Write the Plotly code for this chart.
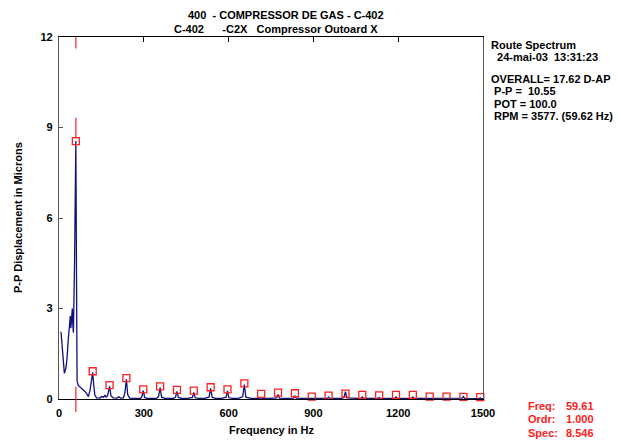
import plotly.graph_objects as go

# ---------------- data ----------------
freq_hz = [7, 12, 19, 24, 28, 33, 37, 40, 42, 45, 47, 49, 51, 55, 59.6, 62, 64, 68, 75, 86, 95, 104,
           110, 115, 119.2, 123, 127, 133, 145, 151, 158, 163, 167, 172, 178.8, 184, 192, 205, 212, 218,
           228, 233, 238.4, 243, 250, 262, 275, 288, 293, 298.1, 303, 312, 330, 345, 352, 357.7, 363,
           375, 390, 405, 412, 417.3, 422, 435, 455, 472, 476.9, 482, 495, 515, 531, 536.5, 542, 555,
           575, 591, 596.1, 601, 615, 635, 650, 655.7, 661, 680, 700, 711, 715.3, 720, 740, 760, 770,
           774.9, 780, 800, 820, 830, 834.5, 839, 860, 880, 890, 894.2, 899, 920, 940, 949, 953.8, 958,
           980, 1000, 1008, 1013.4, 1018, 1040, 1060, 1068, 1073.0, 1078, 1100, 1120, 1128, 1132.6,
           1137, 1160, 1180, 1187, 1192.2, 1197, 1220, 1240, 1247, 1251.8, 1256, 1280, 1300, 1307,
           1311.4, 1316, 1340, 1360, 1366, 1371.0, 1376, 1400, 1420, 1426, 1430.6, 1435, 1460, 1480,
           1486, 1490.3, 1495, 1500]
amplitude = [2.23, 1.55, 0.85, 1.0, 1.3, 2.0, 2.6, 2.75, 2.35, 2.8, 3.0, 2.45, 2.2, 4.5, 8.55, 4.0, 0.6,
             0.45, 0.38, 0.3, 0.22, 0.08, 0.3, 0.55, 0.88, 0.45, 0.12, 0.04, 0.03, 0.08, 0.06, 0.13,
             0.05, 0.12, 0.42, 0.1, 0.04, 0.03, 0.07, 0.03, 0.04, 0.2, 0.65, 0.15, 0.03, 0.02, 0.03,
             0.02, 0.07, 0.28, 0.05, 0.02, 0.02, 0.02, 0.08, 0.38, 0.06, 0.02, 0.02, 0.02, 0.06, 0.25,
             0.05, 0.02, 0.02, 0.05, 0.22, 0.04, 0.02, 0.02, 0.07, 0.35, 0.05, 0.02, 0.02, 0.06, 0.27,
             0.04, 0.02, 0.02, 0.08, 0.48, 0.06, 0.02, 0.02, 0.02, 0.05, 0.02, 0.02, 0.02, 0.04, 0.15,
             0.03, 0.02, 0.02, 0.03, 0.1, 0.03, 0.02, 0.02, 0.02, 0.04, 0.02, 0.02, 0.02, 0.02, 0.06,
             0.02, 0.02, 0.02, 0.05, 0.24, 0.04, 0.02, 0.02, 0.02, 0.07, 0.02, 0.02, 0.02, 0.02, 0.05,
             0.02, 0.02, 0.02, 0.02, 0.07, 0.02, 0.02, 0.02, 0.02, 0.07, 0.02, 0.02, 0.02, 0.01, 0.02,
             0.01, 0.01, 0.01, 0.01, 0.02, 0.01, 0.01, 0.02, 0.03, 0.08, 0.02, 0.01, 0.01, 0.01, 0.04,
             0.01, 0.01]

harmonic_hz = [59.6, 119.2, 178.8, 238.4, 298.1, 357.7, 417.3, 476.9, 536.5, 596.1, 655.7, 715.3,
               774.9, 834.5, 894.2, 953.8, 1013.4, 1073.0, 1132.6, 1192.2, 1251.8, 1311.4, 1371.0,
               1430.6, 1490.3]
harmonic_amp = [8.546, 0.92, 0.46, 0.69, 0.32, 0.42, 0.30, 0.28, 0.39, 0.32, 0.52, 0.17, 0.21, 0.19,
                0.08, 0.11, 0.18, 0.14, 0.12, 0.14, 0.14, 0.08, 0.08, 0.07, 0.06]

x_ticks = [0, 300, 600, 900, 1200, 1500]
y_ticks = [0, 3, 6, 9, 12]

title_lines = ["400  - COMPRESSOR DE GAS - C-402",
               "C-402      -C2X   Compressor Outoard X"]
info_lines = ["Route Spectrum", "  24-mai-03  13:31:23", "",
              "OVERALL= 17.62 D-AP", " P-P =  10.55", " POT = 100.0", " RPM = 3577. (59.62 Hz)"]
cursor_labels = ["Freq:", "Ordr:", "Spec:"]
cursor_values = ["59.61", "1.000", "8.546"]
cursor_freq = 59.61
cursor_spec = 8.546

# ---------------- geometry (pixels) ----------------
W, H = 618, 440
L, R, T, B = 59, 135, 37, 41
PW, PH = W - L - R, H - T - B
FONT = "Liberation Sans, Arial, sans-serif"


def px(xp):
    return (xp - L) / PW


def py(yp):
    return (H - B - yp) / PH


def nb(s):
    return s.replace(" ", "\u00a0")


fig = go.Figure()
fig.add_trace(go.Scatter(x=freq_hz, y=amplitude, mode="lines",
                         line=dict(color="#10107f", width=1.3), showlegend=False, hoverinfo="skip"))
fig.add_trace(go.Scatter(x=harmonic_hz, y=harmonic_amp, mode="markers",
                         marker=dict(symbol="square-open", size=7, color="#ff2020",
                                     line=dict(width=1.3, color="#ff2020")),
                         cliponaxis=False, showlegend=False, hoverinfo="skip"))
fig.add_trace(go.Scatter(x=[None], y=[None], xaxis="x2", showlegend=False, hoverinfo="skip"))

# cursor segments
red = "#ff2020"
fig.add_shape(type="line", xref="x", yref="y", x0=cursor_freq, x1=cursor_freq, y0=12, y1=11.62,
              line=dict(color=red, width=1.2))
fig.add_shape(type="line", xref="x", yref="y", x0=cursor_freq, x1=cursor_freq,
              y0=cursor_spec + 0.12, y1=cursor_spec + 0.78, line=dict(color=red, width=1.2))
fig.add_shape(type="line", xref="x", yref="paper", x0=cursor_freq, x1=cursor_freq,
              y0=0.034, y1=-0.036, line=dict(color=red, width=1.2))

ann = []
# titles
ann.append(dict(text="<b>" + nb(title_lines[0]) + "</b>", x=px(286), y=py(15)))
ann.append(dict(text="<b>" + nb(title_lines[1]) + "</b>", x=px(276), y=py(29)))
for a in ann:
    a.update(xanchor="center")
info_y = [45, 57, 69, 79, 91, 104, 116]
for s, yy in zip(info_lines, info_y):
    if s:
        ann.append(dict(text="<b>" + nb(s) + "</b>", x=px(489), y=py(yy), xanchor="left"))
cur_y = [406, 419, 433]
for lab, val, yy in zip(cursor_labels, cursor_values, cur_y):
    ann.append(dict(text="<b>" + lab + "</b>", x=px(526), y=py(yy), xanchor="left",
                    font=dict(color=red)))
    ann.append(dict(text="<b>" + val + "</b>", x=px(596), y=py(yy), xanchor="right",
                    font=dict(color=red)))
ann.append(dict(text="<b>Frequency in Hz</b>", x=px(271), y=py(430), xanchor="center"))
ann.append(dict(text="<b>P-P Displacement in Microns</b>", x=px(18), y=py(218), xanchor="center",
                textangle=-90))
for a in ann:
    a.setdefault("font", {})
    a["font"] = dict(family=FONT, size=11, color=a["font"].get("color", "black"))
    a.update(xref="paper", yref="paper", yanchor="middle", showarrow=False)

fig.update_layout(
    width=W, height=H, margin=dict(l=L, r=R, t=T, b=B, pad=0),
    paper_bgcolor="white", plot_bgcolor="white",
    font=dict(family=FONT, size=11, color="black"),
    annotations=ann,
    xaxis=dict(range=[0, 1500], tickvals=x_ticks, ticktext=[str(v) for v in x_ticks],
               ticks="", showgrid=False, zeroline=False, showline=True, linecolor="black",
               linewidth=1.3, tickfont=dict(family=FONT, size=11, weight="bold"),
               ticklabelstandoff=4),
    xaxis2=dict(range=[0, 1500], overlaying="x", side="top", tickvals=x_ticks, ticks="inside",
                ticklen=5, tickcolor="black", showticklabels=False, showgrid=False, zeroline=False,
                showline=True, linecolor="black", linewidth=1.3),
    yaxis=dict(range=[0, 12], tickvals=y_ticks, ticktext=[str(v) for v in y_ticks],
               ticks="inside", ticklen=4, tickcolor="#555", showgrid=False, zeroline=False,
               showline=True, linecolor="#555", linewidth=1.3, mirror=True,
               tickfont=dict(family=FONT, size=11, weight="bold"), ticklabelstandoff=3),
)

fig.write_html("out.html")
